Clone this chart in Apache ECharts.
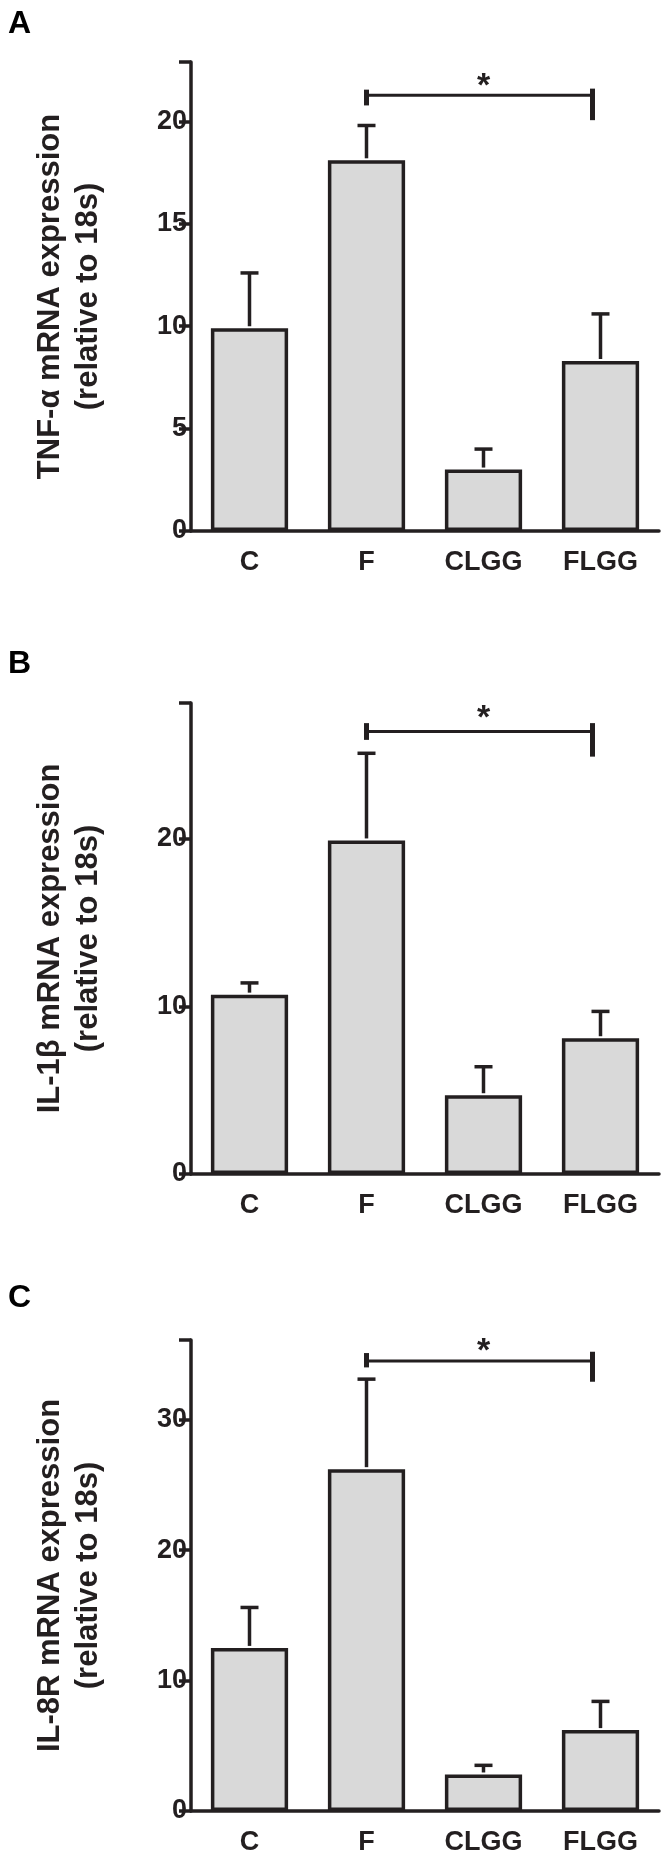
<!DOCTYPE html>
<html><head><meta charset="utf-8">
<script src="https://cdn.jsdelivr.net/npm/echarts@6/dist/echarts.min.js"></script>
<style>html,body{margin:0;padding:0;background:#fff}#c{width:670px;height:1857px}</style>
</head><body><div id="c"></div>
<script>
const categories = ['C','F','CLGG','FLGG'];
const panelLetters = ['A','B','C'];
const yTitles = ['TNF-\u03b1 mRNA expression\n(relative to 18s)','IL-1\u03b2 mRNA expression\n(relative to 18s)','IL-8R mRNA expression\n(relative to 18s)'];
const meanA = [9.9, 18.1, 3.0, 8.3];
const errA  = [12.6, 19.8, 4.0, 10.6];
const meanB = [10.7, 19.9, 4.7, 8.1];
const errB  = [11.4, 25.1, 6.4, 9.7];
const meanC = [12.5, 26.2, 2.8, 6.2];
const errC  = [15.6, 33.1, 3.5, 8.4];
const yMax = [22.9, 28.1, 36.1];
const yInterval = [5, 10, 10];
// significance: [fromIndex, toIndex, barY, leftTop, leftBottom, rightTop, rightBottom, starY]
const sigA = [1, 3, 21.28, 21.55, 20.78, 21.6, 20.06, 22.0];
const sigB = [1, 3, 26.4, 26.9, 25.9, 26.9, 24.9, 27.5];
const sigC = [1, 3, 34.5, 35.1, 34.0, 35.2, 32.9, 35.7];

const means=[meanA,meanB,meanC], errs=[errA,errB,errC], sigs=[sigA,sigB,sigC];
const gridTops=[62,703,1340], gridH=[469,471,471];
const FONT='Liberation Sans, Arial, sans-serif';
const DARK='#231f20';
const grids=[],xAxes=[],yAxes=[],series=[],graphics=[];
for(let i=0;i<3;i++){
  grids.push({left:191,right:11,top:gridTops[i],height:gridH[i]});
  xAxes.push({type:'category',gridIndex:i,data:categories,
    axisLine:{lineStyle:{color:DARK,width:3.5}},axisTick:{show:false},
    axisLabel:{color:DARK,fontFamily:FONT,fontWeight:'bold',fontSize:27,margin:18}});
  yAxes.push({type:'value',gridIndex:i,min:0,max:yMax[i],interval:yInterval[i],
    splitLine:{show:false},
    axisLine:{show:true,lineStyle:{color:DARK,width:3.5}},
    axisTick:{show:true,length:12,lineStyle:{color:DARK,width:3.5}},
    axisLabel:{color:DARK,fontFamily:FONT,fontWeight:'bold',fontSize:27,margin:4,
      formatter:v=> (v>yMax[i]-0.5? '' : String(v))},
    name:yTitles[i],nameLocation:'middle',nameGap:84,
    nameTextStyle:{color:DARK,fontFamily:FONT,fontWeight:'bold',fontSize:31,lineHeight:38}});
  series.push({type:'bar',xAxisIndex:i,yAxisIndex:i,data:means[i],barWidth:'66%',
    itemStyle:{color:'#d9d9d9',borderColor:DARK,borderWidth:3.5},z:2});
  series.push({type:'custom',xAxisIndex:i,yAxisIndex:i,z:3,
    data:means[i].map((m,k)=>[k,m,errs[i][k]]),
    renderItem:(p,api)=>{
      const a=api.coord([api.value(0),api.value(1)]);
      const b=api.coord([api.value(0),api.value(2)]);
      return {type:'group',children:[
        {type:'line',shape:{x1:a[0],y1:a[1]-2,x2:b[0],y2:b[1]},style:{stroke:DARK,lineWidth:3.5}},
        {type:'line',shape:{x1:b[0]-9,y1:b[1],x2:b[0]+9,y2:b[1]},style:{stroke:DARK,lineWidth:3.5}}]};
    }});
  series.push({type:'custom',xAxisIndex:i,yAxisIndex:i,z:4,data:[sigs[i]],
    renderItem:(p,api)=>{
      const s=sigs[i];
      const l=api.coord([s[0],s[2]]), r=api.coord([s[1],s[2]]);
      const lt=api.coord([s[0],s[3]]), lb=api.coord([s[0],s[4]]);
      const rt=api.coord([s[1],s[5]]), rb=api.coord([s[1],s[6]]);
      const st=api.coord([(s[0]+s[1])/2,s[7]]);
      return {type:'group',children:[
        {type:'line',shape:{x1:l[0],y1:l[1],x2:r[0]-8,y2:r[1]},style:{stroke:DARK,lineWidth:3}},
        {type:'line',shape:{x1:lt[0],y1:lt[1],x2:lb[0],y2:lb[1]},style:{stroke:DARK,lineWidth:5}},
        {type:'line',shape:{x1:rt[0]-8,y1:rt[1],x2:rb[0]-8,y2:rb[1]},style:{stroke:DARK,lineWidth:5}},
        {type:'text',x:st[0],y:st[1]+6,style:{text:'*',fill:DARK,font:'bold 34px '+FONT,align:'center',verticalAlign:'middle'}}]};
    }});
  graphics.push({type:'text',left:8,top:[8,648,1282][i],
    style:{text:panelLetters[i],fill:'#000',font:'bold 32px '+FONT}});
}
const chart=echarts.init(document.getElementById('c'),null,{renderer:'canvas'});
chart.setOption({animation:false,backgroundColor:'#fff',grid:grids,xAxis:xAxes,yAxis:yAxes,series:series,graphic:graphics});
</script></body></html>
